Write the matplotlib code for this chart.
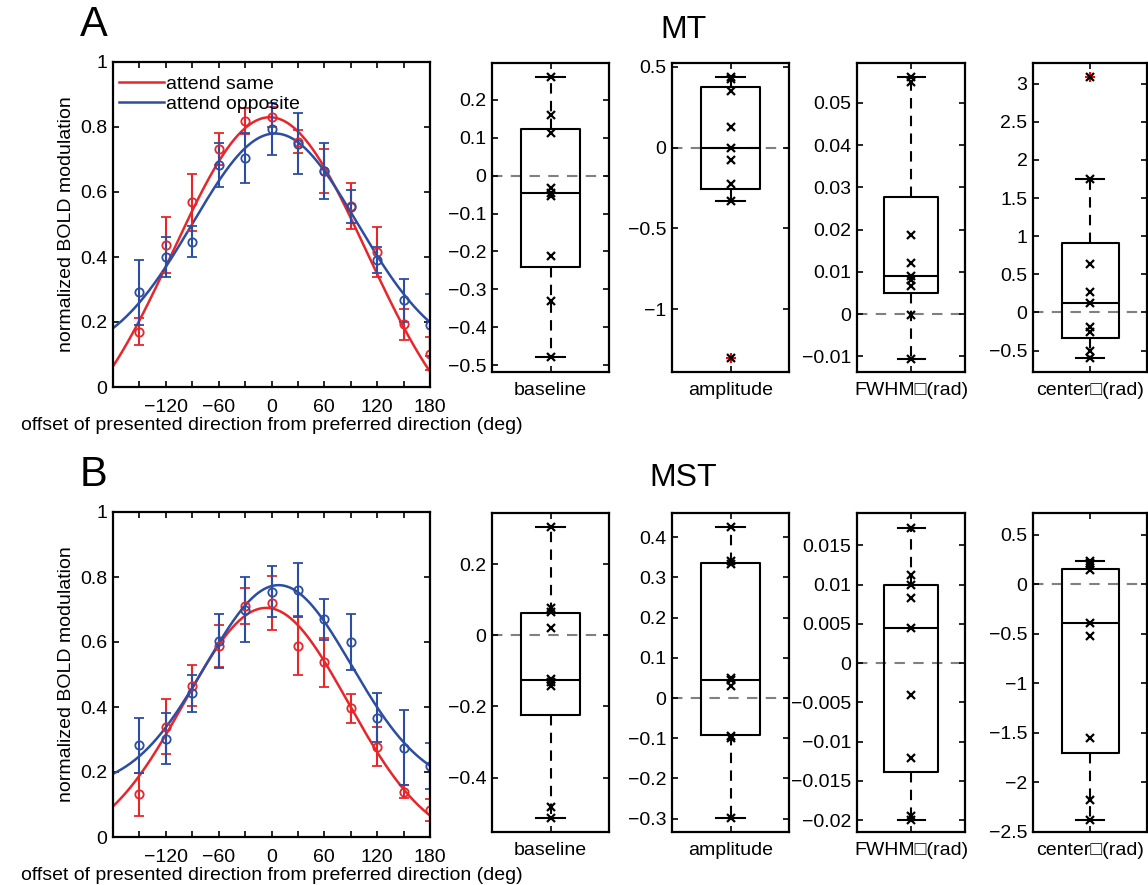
import numpy as np
import matplotlib
matplotlib.use("Agg")
import matplotlib.pyplot as plt

plt.rcParams["font.family"] = ["Liberation Sans", "DejaVu Sans"]

# ── tuning curve data (normalized BOLD modulation) ──────────────────────
directions = [-150, -120, -90, -60, -30, 0, 30, 60, 90, 120, 150, 180]

mt_same = [0.170, 0.437, 0.568, 0.732, 0.818, 0.831, 0.755, 0.665, 0.557, 0.416, 0.193, 0.103]
mt_same_err = [0.042, 0.087, 0.088, 0.048, 0.040, 0.030, 0.035, 0.068, 0.070, 0.077, 0.048, 0.050]
mt_opp = [0.291, 0.400, 0.447, 0.683, 0.706, 0.793, 0.749, 0.665, 0.555, 0.390, 0.267, 0.191]
mt_opp_err = [0.100, 0.063, 0.048, 0.069, 0.077, 0.080, 0.095, 0.087, 0.050, 0.040, 0.066, 0.095]

mst_same = [0.131, 0.340, 0.466, 0.588, 0.711, 0.719, 0.589, 0.538, 0.396, 0.277, 0.139, 0.082]
mst_same_err = [0.067, 0.086, 0.064, 0.065, 0.055, 0.083, 0.090, 0.075, 0.044, 0.060, 0.020, 0.034]
mst_opp = [0.282, 0.303, 0.442, 0.603, 0.700, 0.755, 0.759, 0.670, 0.601, 0.367, 0.275, 0.218]
mst_opp_err = [0.085, 0.078, 0.058, 0.084, 0.100, 0.079, 0.083, 0.063, 0.086, 0.075, 0.115, 0.070]

# fitted tuning functions: baseline, amplitude, center (deg), width (deg)
mt_same_fit = [-0.22, 1.05, -2, 110.0]
mt_opp_fit = [0.081, 0.699, 4, 93.3]
mst_same_fit = [-0.034, 0.739, -6, 93.0]
mst_opp_fit = [0.146, 0.629, 8, 83.0]

# ── per-subject fit differences (box plots) ─────────────────────────────
param_names = ["baseline", "amplitude", "FWHM\u25a1(rad)", "center\u25a1(rad)"]

mt_points = [
    [0.26, 0.161, 0.112, -0.033, -0.046, -0.055, -0.211, -0.331, -0.479],
    [0.434, 0.425, 0.347, 0.126, 0.0, -0.079, -0.227, -0.331, -1.302],
    [0.0562, 0.055, 0.0187, 0.0121, 0.009, 0.008, 0.0066, -0.0002, -0.0107],
    [3.08, 1.75, 0.638, 0.266, 0.122, -0.19, -0.258, -0.50, -0.60],
]
# q1, median, q3, lower whisker, upper whisker
mt_stats = [
    [-0.242, -0.047, 0.124, -0.479, 0.26],
    [-0.256, 0.0, 0.372, -0.331, 0.438],
    [0.005, 0.009, 0.0276, -0.0107, 0.0562],
    [-0.332, 0.122, 0.908, -0.60, 1.75],
]
mt_outliers = [[], [-1.302], [], [3.08]]
mt_ylims = [(-0.518, 0.297), (-1.389, 0.523), (-0.0137, 0.0594), (-0.78, 3.27)]
mt_yticks = [
    [-0.5, -0.4, -0.3, -0.2, -0.1, 0, 0.1, 0.2],
    [-1, -0.5, 0, 0.5],
    [-0.01, 0, 0.01, 0.02, 0.03, 0.04, 0.05],
    [-0.5, 0, 0.5, 1, 1.5, 2, 2.5, 3],
]

mst_points = [
    [0.306, 0.078, 0.067, 0.02, -0.122, -0.130, -0.142, -0.483, -0.514],
    [0.425, 0.34, 0.333, 0.05, 0.046, 0.03, -0.095, -0.099, -0.298],
    [0.0172, 0.0112, 0.0100, 0.0083, 0.0045, -0.004, -0.0121, -0.0195, -0.0200],
    [0.231, 0.22, 0.20, 0.146, -0.388, -0.524, -1.548, -2.177, -2.378],
]
mst_stats = [
    [-0.225, -0.126, 0.063, -0.514, 0.306],
    [-0.093, 0.046, 0.335, -0.298, 0.425],
    [-0.0139, 0.0045, 0.0100, -0.0200, 0.0172],
    [-1.707, -0.388, 0.153, -2.378, 0.231],
]
mst_outliers = [[], [], [], []]
mst_ylims = [(-0.553, 0.344), (-0.333, 0.46), (-0.0215, 0.0191), (-2.5, 0.72)]
mst_yticks = [
    [-0.4, -0.2, 0, 0.2],
    [-0.3, -0.2, -0.1, 0, 0.1, 0.2, 0.3, 0.4],
    [-0.02, -0.015, -0.01, -0.005, 0, 0.005, 0.01, 0.015],
    [-2.5, -2, -1.5, -1, -0.5, 0, 0.5],
]

# ── styling ─────────────────────────────────────────────────────────────
RED = "#e8262a"
BLUE = "#2b4da3"
W, H = 1148, 885
FS = 14


def px_axes(fig, left, top, right, bottom):
    return fig.add_axes([left / W, 1 - bottom / H, (right - left) / W, (bottom - top) / H])


def style_axes(ax):
    for sp in ax.spines.values():
        sp.set_linewidth(1.6)
    ax.tick_params(direction="in", top=True, right=True, length=4, width=1.2,
                   labelsize=FS, pad=4)
    ax.tick_params(axis="x", pad=9)


def fmt(v):
    s = f"{v:g}"
    return s.replace("-", "\u2212")


def tuning_fit(params, x):
    b, a, mu, sig = params
    return b + a * np.exp(-((x - mu) ** 2) / (2 * sig ** 2))


def draw_tuning(ax, same, same_err, opp, opp_err, same_fit, opp_fit, legend):
    xs = np.linspace(-180, 180, 361)
    l1, = ax.plot(xs, tuning_fit(same_fit, xs), color=RED, lw=1.8)
    l2, = ax.plot(xs, tuning_fit(opp_fit, xs), color=BLUE, lw=1.8)
    ax.errorbar(directions, same, yerr=same_err, fmt="o", color=RED, mfc="none",
                ms=6, mew=1.3, elinewidth=1.5, capsize=3.5, capthick=1.5)
    ax.errorbar(directions, opp, yerr=opp_err, fmt="o", color=BLUE, mfc="none",
                ms=6, mew=1.3, elinewidth=1.5, capsize=3.5, capthick=1.5)
    ax.set_xlim(-180, 180)
    ax.set_ylim(0, 1)
    ax.set_xticks(list(range(-150, 181, 30)))
    ax.set_xticklabels([fmt(t) if t % 60 == 0 else "" for t in range(-150, 181, 30)])
    ax.set_yticks([0, 0.2, 0.4, 0.6, 0.8, 1])
    ax.set_yticklabels([fmt(t) for t in [0, 0.2, 0.4, 0.6, 0.8, 1]])
    ax.set_ylabel("normalized BOLD modulation", fontsize=FS, labelpad=4)
    ax.set_xlabel("offset of presented direction from preferred direction (deg)",
                  fontsize=FS, labelpad=0)
    style_axes(ax)
    if legend:
        ax.legend([l1, l2], ["attend same", "attend opposite"], loc="upper left",
                  bbox_to_anchor=(0.003, 0.975),
                  frameon=False, fontsize=FS, handlelength=2.3, handletextpad=0.12,
                  labelspacing=0.15, borderaxespad=0.0, borderpad=0.25)


def draw_box(ax, pts, stats, outliers, ylim, yticks, name):
    q1, med, q3, lo, hi = stats
    ax.axhline(0, color="0.5", ls="--", lw=1.5, dashes=(5, 4), zorder=1)
    ax.bxp([dict(med=med, q1=q1, q3=q3, whislo=lo, whishi=hi, fliers=outliers)],
           positions=[1], widths=0.5, capwidths=0.25, showfliers=True,
           boxprops=dict(color="black", lw=1.5),
           whiskerprops=dict(color="black", lw=1.5, ls=(0, (5, 3.5))),
           capprops=dict(color="black", lw=1.5),
           medianprops=dict(color="black", lw=1.5),
           flierprops=dict(marker="+", markeredgecolor="red", ms=7, mew=1.5))
    ax.plot([1] * len(pts), pts, "x", color="black", ms=6, mew=1.6, zorder=5)
    ax.set_xlim(0.5, 1.5)
    ax.set_ylim(*ylim)
    ax.set_yticks(yticks)
    ax.set_yticklabels([fmt(t) for t in yticks])
    ax.set_xticks([1])
    ax.set_xticklabels([name])
    style_axes(ax)
    ax.tick_params(axis="x", pad=7)


fig = plt.figure(figsize=(W / 100, H / 100), dpi=100)

box_cols = [(492, 609), (672, 789), (857, 965), (1033, 1147)]

panels = [
    ("A", "MT", 62, 387, 63, 372, mt_same, mt_same_err, mt_opp, mt_opp_err,
     mt_same_fit, mt_opp_fit, mt_points, mt_stats, mt_outliers, mt_ylims, mt_yticks, True, 25, 30),
    ("B", "MST", 512, 837, 513, 832, mst_same, mst_same_err, mst_opp, mst_opp_err,
     mst_same_fit, mst_opp_fit, mst_points, mst_stats, mst_outliers, mst_ylims, mst_yticks, False, 475, 478),
]

for (letter, title, t_top, t_bot, b_top, b_bot, same, same_err, opp, opp_err,
     same_fit, opp_fit, pts, stats, outl, ylims, yticks, legend, ly, ty) in panels:
    ax = px_axes(fig, 113, t_top, 430, t_bot)
    draw_tuning(ax, same, same_err, opp, opp_err, same_fit, opp_fit, legend)
    for i, (l, r) in enumerate(box_cols):
        bax = px_axes(fig, l, b_top, r, b_bot)
        draw_box(bax, pts[i], stats[i], outl[i], ylims[i], yticks[i], param_names[i])
    fig.text(80 / W, 1 - ly / H, letter, fontsize=30, va="center", ha="left")
    fig.text(683 / W, 1 - ty / H, title, fontsize=23, va="center", ha="center")

fig.savefig("out.png", dpi=100)
